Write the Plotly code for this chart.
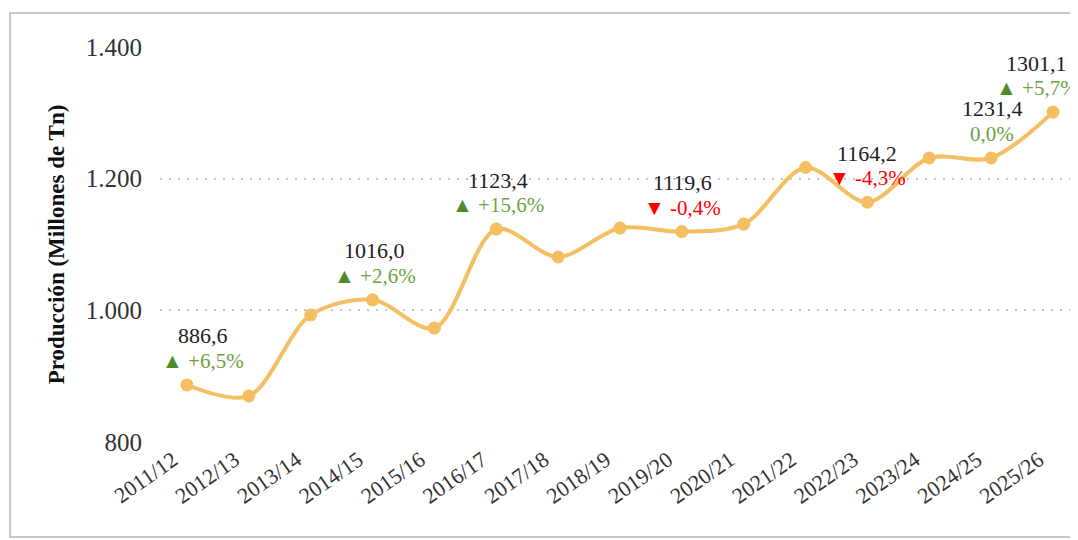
import plotly.graph_objects as go

# campañas y producción (millones de Tn)
campanas = ["2011/12", "2012/13", "2013/14", "2014/15", "2015/16", "2016/17", "2017/18",
            "2018/19", "2019/20", "2020/21", "2021/22", "2022/23", "2023/24", "2024/25", "2025/26"]
produccion = [886.6, 870.0, 993.0, 1016.0, 973.0, 1123.4, 1081.0,
              1125.0, 1119.6, 1131.0, 1217.0, 1164.2, 1231.4, 1231.4, 1301.1]

# etiquetas destacadas: campaña, variación interanual (%)
destacadas = ["2011/12", "2014/15", "2016/17", "2019/20", "2022/23", "2024/25", "2025/26"]
variacion = [6.5, 2.6, 15.6, -0.4, -4.3, 0.0, 5.7]
desplazamiento_x = [16, 2, 2, 1, 0, 1, -16]

FONT = "Liberation Serif, Times New Roman, serif"
LINE_COLOR = "#F4BF62"
GREEN_TRI = "#4E8B2A"
GREEN_TXT = "#6BA43F"
RED = "#FF0000"


def fmt(v):
    return f"{v:.1f}".replace(".", ",")


fig = go.Figure()

fig.add_trace(go.Scatter(
    x=list(range(len(campanas))),
    y=produccion,
    mode="lines+markers",
    line=dict(color=LINE_COLOR, width=4, shape="spline", smoothing=0.9),
    marker=dict(color=LINE_COLOR, size=13),
    showlegend=False,
    cliponaxis=False,
))

for camp, var, dx in zip(destacadas, variacion, desplazamiento_x):
    i = campanas.index(camp)
    val = produccion[i]
    if var > 0:
        pct = (f"<span style='color:{GREEN_TRI}'>▲</span> "
               f"<span style='color:{GREEN_TXT}'>+{fmt(var)}%</span>")
    elif var < 0:
        pct = (f"<span style='color:{RED}'>▼</span> "
               f"<span style='color:{RED}'>{fmt(var)}%</span>")
    else:
        pct = f"<span style='color:{GREEN_TXT}'>{fmt(var)}%</span>"
    # valor
    fig.add_annotation(
        x=i, y=val, xref="x", yref="y", text=fmt(val),
        showarrow=False, yanchor="middle", xanchor="center",
        xshift=dx, yshift=49,
        font=dict(family=FONT, size=22, color="#222222"),
    )
    # variación
    fig.add_annotation(
        x=i, y=val, xref="x", yref="y", text=pct,
        showarrow=False, yanchor="middle", xanchor="center",
        xshift=dx, yshift=24,
        font=dict(family=FONT, size=21, color=GREEN_TXT),
    )

# marco (sale por la derecha)
fig.add_shape(type="rect", xref="paper", yref="paper",
              x0=-0.1648, x1=1.06, y0=-0.2405, y1=1.086,
              line=dict(color="#c8c8c8", width=2), layer="below")

# la página añade 8 px de margen al cuerpo, el lienzo sobresale a la derecha/abajo
fig.update_layout(
    width=1078, height=540,
    margin=dict(l=152, r=16, t=39, b=106),
    paper_bgcolor="white", plot_bgcolor="white",
    separators=",.",
    font=dict(family=FONT, color="#333333"),
    xaxis=dict(
        range=[-0.436, 14.275],
        tickmode="array",
        tickvals=list(range(len(campanas))),
        ticktext=campanas,
        tickangle=-35,
        ticklabelshift=-14,
        tickfont=dict(family=FONT, size=22, color="#333333"),
        showgrid=False, zeroline=False, showline=False,
        ticks="", automargin=False,
    ),
    yaxis=dict(
        range=[800, 1400],
        tickvals=[800, 1000, 1200, 1400],
        tickformat=",d",
        tickfont=dict(family=FONT, size=25, color="#333333"),
        showgrid=True, gridcolor="#c4c4c4", griddash="2px,7px", gridwidth=1.5,
        zeroline=False, showline=False,
        ticks="outside", ticklen=12, tickcolor="rgba(0,0,0,0)",
        automargin=False,
        title=dict(text="<b>Producción (Millones de Tn)</b>",
                   font=dict(family=FONT, size=23, color="#111111"),
                   standoff=14),
    ),
)

fig.write_html("out.html")
